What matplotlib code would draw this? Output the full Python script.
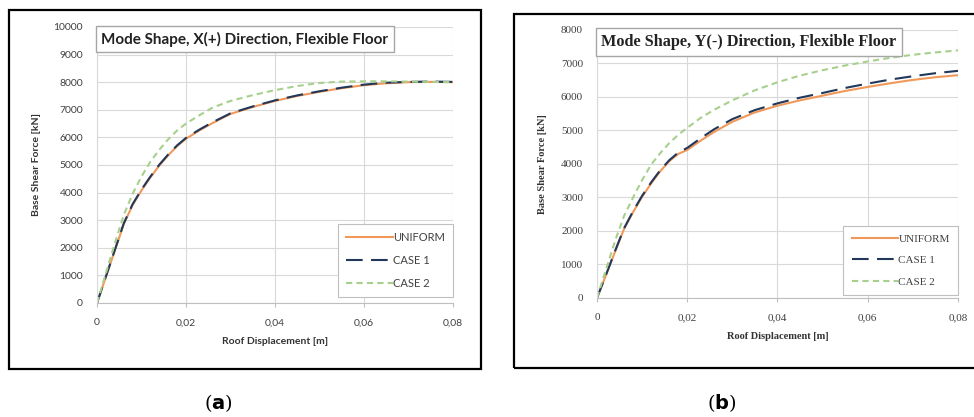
import matplotlib
matplotlib.use("Agg")
import matplotlib.pyplot as plt
from matplotlib.patches import Rectangle
from matplotlib.ticker import FuncFormatter

# roof displacement [m], shared by every curve
disp = [0, 0.002, 0.004, 0.006, 0.008, 0.010, 0.012, 0.014, 0.016, 0.018, 0.020,
        0.023, 0.026, 0.030, 0.035, 0.040, 0.045, 0.050, 0.055, 0.060, 0.065,
        0.070, 0.075, 0.080]

# (a) X(+) direction, base shear [kN]
a_uniform = [0, 950, 1900, 2850, 3550, 4080, 4550, 4980, 5350, 5680, 5950,
             6250, 6520, 6850, 7100, 7320, 7500, 7650, 7780, 7890, 7960,
             8000, 8010, 8000]
a_case1 = [0, 960, 1920, 2880, 3580, 4110, 4580, 5010, 5380, 5710, 5980,
           6280, 6550, 6870, 7120, 7340, 7520, 7670, 7800, 7910, 7980,
           8010, 8020, 8010]
a_case2 = [0, 1080, 2160, 3180, 3960, 4580, 5120, 5550, 5930, 6250, 6500,
           6800, 7080, 7320, 7530, 7710, 7860, 7970, 8020, 8030, 8030,
           8020, 8010, 8000]

# (b) Y(-) direction, base shear [kN]
b_uniform = [0, 680, 1380, 2060, 2560, 3020, 3420, 3780, 4080, 4300, 4420,
             4700, 4960, 5260, 5540, 5740, 5900, 6040, 6180, 6300, 6410,
             6510, 6590, 6650]
b_case1 = [0, 690, 1400, 2080, 2590, 3050, 3450, 3810, 4110, 4340, 4480,
           4770, 5040, 5340, 5610, 5810, 5980, 6120, 6270, 6400, 6520,
           6620, 6710, 6780]
b_case2 = [0, 850, 1700, 2450, 3000, 3520, 3980, 4320, 4620, 4870, 5080,
           5380, 5620, 5900, 6200, 6440, 6640, 6800, 6940, 7060, 7170,
           7260, 7330, 7390]

labels = ["UNIFORM", "CASE 1", "CASE 2"]
xticks = [0, 0.02, 0.04, 0.06, 0.08]

colors = ["#F0985A", "#22385A", "#A8D08D"]
styles = ["-", (0, (8, 4)), (0, (3, 2))]

fig = plt.figure(figsize=(9.74, 4.17), dpi=100)

# outer black frames around each panel
fig.add_artist(Rectangle((0.0092, 0.1151), 0.4846, 0.861, transform=fig.transFigure,
                         fill=False, lw=1.6, ec="black"))
fig.add_artist(Rectangle((0.5277, 0.1175), 0.49, 0.849, transform=fig.transFigure,
                         fill=False, lw=1.6, ec="black"))

ax_a = fig.add_axes([0.0996, 0.2734, 0.3655, 0.662])
ax_b = fig.add_axes([0.6129, 0.2854, 0.3707, 0.6427])


def comma(v, pos):
    if v == 0:
        return "0"
    return ("%.2f" % v).replace(".", ",")


def style_axes(ax, ymax, family, title, legend_anchor, title_size, tick_size, ypad):
    ax.set_xlim(0, 0.08)
    ax.set_ylim(0, ymax)
    ax.set_xticks(xticks)
    ax.set_yticks(range(0, ymax + 1, 1000))
    ax.xaxis.set_major_formatter(FuncFormatter(comma))
    ax.grid(True, color="#d9d9d9", lw=0.8)
    ax.set_axisbelow(True)
    for s in ["top", "right"]:
        ax.spines[s].set_visible(False)
    ax.spines["left"].set_color("#d9d9d9")
    ax.spines["bottom"].set_color("#bfbfbf")
    ax.tick_params(axis="y", length=0, pad=10, labelsize=tick_size, labelcolor="#404040")
    ax.tick_params(axis="x", length=3, color="#bfbfbf", pad=8, labelsize=tick_size,
                   labelcolor="#404040")
    for t in ax.get_xticklabels() + ax.get_yticklabels():
        t.set_family(family)
    ax.set_xlabel("Roof Displacement [m]", fontsize=7.5, fontweight="bold",
                  family=family, color="#333333", labelpad=7)
    ax.set_ylabel("Base Shear Force [kN]", fontsize=7.5, fontweight="bold",
                  family=family, color="#333333", labelpad=ypad)
    ax.text(0.012, 0.955, title, transform=ax.transAxes, fontsize=title_size,
            fontweight="bold", family=family, va="center", ha="left",
            color="#222222",
            bbox=dict(boxstyle="square,pad=0.35", fc="white", ec="#a6a6a6", lw=1))
    leg = ax.legend(loc="lower right", bbox_to_anchor=legend_anchor,
                    borderaxespad=0, handlelength=4.2, handletextpad=0.0,
                    labelspacing=1.05, fancybox=False, framealpha=1,
                    edgecolor="#bfbfbf", borderpad=0.75,
                    prop={"family": family, "size": 8})
    leg.get_frame().set_linewidth(0.8)
    for t in leg.get_texts():
        t.set_color("#404040")


for ys, lab, c, ls in zip([a_uniform, a_case1, a_case2], labels, colors, styles):
    ax_a.plot(disp, ys, color=c, ls=ls, lw=1.5, label=lab)
for ys, lab, c, ls in zip([b_uniform, b_case1, b_case2], labels, colors, styles):
    ax_b.plot(disp, ys, color=c, ls=ls, lw=1.5, label=lab)

style_axes(ax_a, 10000, "Lato", "Mode Shape, X(+) Direction, Flexible Floor",
           (1.0, 0.022), 11, 7.5, 9)
style_axes(ax_b, 8000, "Liberation Serif", "Mode Shape, Y(-) Direction, Flexible Floor",
           (1.0, 0.011), 11.7, 8, 10)

fig.text(0.224, 0.033, r"($\mathbf{a}$)", fontsize=14, ha="center", va="center",
         family="DejaVu Serif")
fig.text(0.741, 0.033, r"($\mathbf{b}$)", fontsize=14, ha="center", va="center",
         family="DejaVu Serif")

fig.savefig("out.png", dpi=100)
